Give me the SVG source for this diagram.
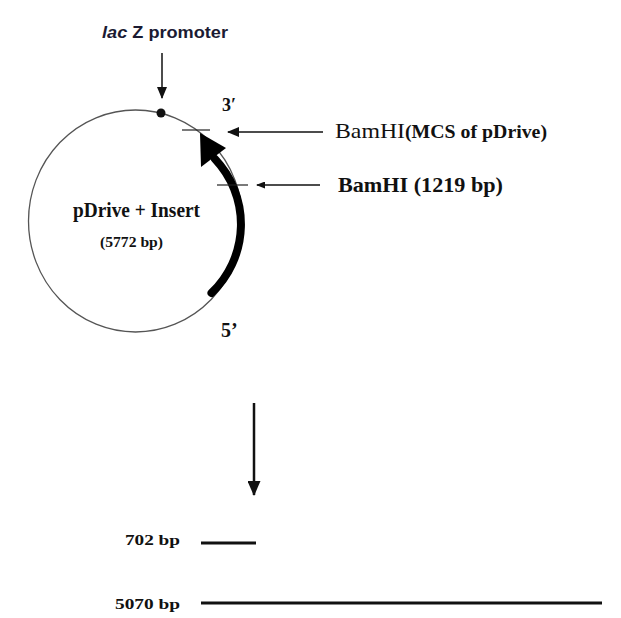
<svg xmlns="http://www.w3.org/2000/svg" width="621" height="618" viewBox="0 0 621 618">
<style>
.t{font-family:"Liberation Serif","Times New Roman",serif;fill:#111;}
.b{font-weight:bold;}
.s{font-family:"Liberation Sans",Arial,sans-serif;font-weight:bold;fill:#1b1b33;}
.thin{stroke:#111;stroke-width:1.5;fill:none;}
</style>
<defs>
<marker id="ah" viewBox="0 0 12 10" refX="11" refY="5" markerWidth="12" markerHeight="10" markerUnits="userSpaceOnUse" orient="auto"><path d="M0,0 L12,5 L0,10 Z" fill="#111"/></marker>
<marker id="ahs" viewBox="0 0 9 7" refX="8" refY="3.5" markerWidth="9" markerHeight="7" markerUnits="userSpaceOnUse" orient="auto"><path d="M0,0 L9,3.5 L0,7 Z" fill="#111"/></marker>
<marker id="ahb" viewBox="0 0 15 13" refX="14" refY="6.5" markerWidth="15" markerHeight="13" markerUnits="userSpaceOnUse" orient="auto"><path d="M0,0 L15,6.5 L0,13 Z" fill="#111"/></marker>
</defs>
<rect width="621" height="618" fill="#fff"/>
<g id="plasmid">
<ellipse cx="135.5" cy="221" rx="107" ry="111" fill="none" stroke="#555" stroke-width="1.3"/>
<circle cx="161" cy="113" r="4.5" fill="#111"/>
<path d="M211.5,293 A95,95 0 0 0 215,159" fill="none" stroke="#000" stroke-width="8" stroke-linecap="round"/>
<polygon points="200,133 201,167 226,148" fill="#000"/>
<line x1="182" y1="130" x2="210" y2="130" stroke="#222" stroke-width="1.2"/>
<line x1="217" y1="185" x2="248" y2="185" stroke="#222" stroke-width="1.2"/>
<text class="t b" x="73" y="217" font-size="22" textLength="127" lengthAdjust="spacingAndGlyphs">pDrive + Insert</text>
<text class="t b" x="100" y="247" font-size="14" textLength="63" lengthAdjust="spacingAndGlyphs">(5772 bp)</text>
</g>
<g id="labels">
<text class="s" x="102" y="38" font-size="17" textLength="126" lengthAdjust="spacingAndGlyphs"><tspan font-style="italic">lac</tspan> Z promoter</text>
<text class="t b" x="222" y="111" font-size="18" fill="#1b1b33">3′</text>
<text class="t b" x="221" y="337" font-size="20">5’</text>
<text class="t" x="335" y="138" font-size="22" textLength="70" lengthAdjust="spacingAndGlyphs">BamHI</text>
<text class="t b" x="405" y="138" font-size="19.5" textLength="142" lengthAdjust="spacingAndGlyphs">(MCS of pDrive)</text>
<text class="t b" x="338" y="192" font-size="21" textLength="165" lengthAdjust="spacingAndGlyphs">BamHI (1219 bp)</text>
<text class="t b" x="125" y="545" font-size="15" textLength="55" lengthAdjust="spacingAndGlyphs">702 bp</text>
<text class="t b" x="115" y="609" font-size="15" textLength="65" lengthAdjust="spacingAndGlyphs">5070 bp</text>
</g>
<g id="connectors">
<line class="thin" x1="162" y1="53" x2="162" y2="98" marker-end="url(#ah)"/>
<line class="thin" x1="323" y1="132" x2="228" y2="132" marker-end="url(#ah)"/>
<line class="thin" x1="320" y1="185" x2="257" y2="185" marker-end="url(#ahs)"/>
<line x1="254" y1="403" x2="254" y2="495" stroke="#111" stroke-width="2.5" marker-end="url(#ahb)"/>
</g>
<g id="bands">
<line x1="201" y1="543" x2="256" y2="543" stroke="#111" stroke-width="3"/>
<line x1="201" y1="603" x2="602" y2="603" stroke="#111" stroke-width="3"/>
</g>
</svg>
